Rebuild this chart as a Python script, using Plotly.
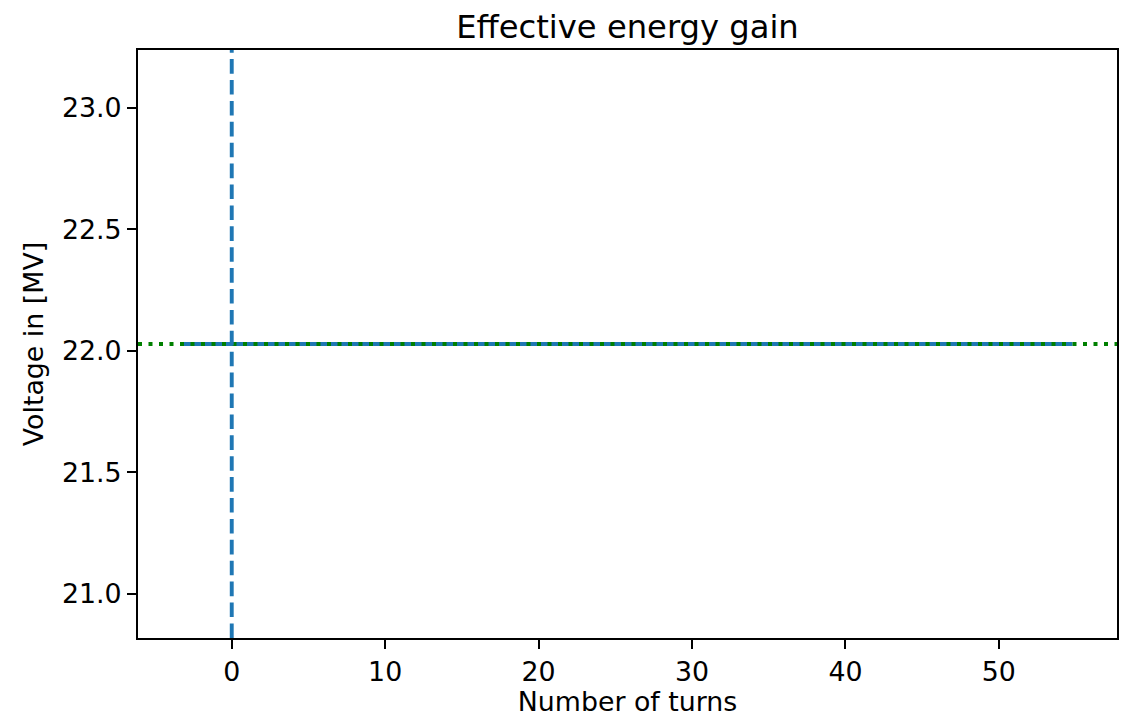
import plotly.graph_objects as go

# Data
turns = [-3.2, 54.8]
voltage = [22.028, 22.028]
target_voltage = 22.028
injection_turn = 0

x_range = [-6.11, 57.7]
y_range = [20.817, 23.239]
x_ticks = [0, 10, 20, 30, 40, 50]
y_ticks = [21.0, 21.5, 22.0, 22.5, 23.0]

FONT = "DejaVu Sans"
# the page body adds an 8px margin; compensate so the plot lands where the reference is
W, H = 1119, 709

fig = go.Figure()
fig.add_trace(go.Scatter(x=turns, y=voltage, mode="lines",
                         line=dict(color="#1f77b4", width=3.9), showlegend=False))

# axhline (green dotted)
fig.add_shape(type="line", xref="x domain", yref="y", x0=0, x1=1,
              y0=target_voltage, y1=target_voltage,
              line=dict(color="#008000", width=3.9, dash="4px,6.5px"))
# axvline (blue dashed)
fig.add_shape(type="line", xref="x", yref="y domain", x0=injection_turn, x1=injection_turn,
              y0=0, y1=1,
              line=dict(color="#1f77b4", width=3.9, dash="14.6px,6.3px"))

axis_common = dict(showgrid=False, zeroline=False, showline=True, mirror=True,
                   linecolor="black", linewidth=2, ticks="outside", ticklen=9,
                   tickwidth=2, tickcolor="black",
                   tickfont=dict(family=FONT, size=26.8, color="black"))

fig.update_xaxes(range=x_range, tickvals=x_ticks, ticktext=[str(v) for v in x_ticks],
                 title=dict(text="Number of turns", font=dict(family=FONT, size=26.8, color="black"),
                            standoff=8),
                 **axis_common)
fig.update_yaxes(range=y_range, tickvals=y_ticks, ticktext=[f"{v:.1f}" for v in y_ticks],
                 title=dict(text="Voltage in [MV]", font=dict(family=FONT, size=26.8, color="black"),
                            standoff=11),
                 **axis_common)

fig.update_layout(
    width=W, height=H,
    margin=dict(l=130, r=10, t=42, b=79, autoexpand=False),
    plot_bgcolor="white", paper_bgcolor="white",
    title=dict(text="Effective energy gain", x=(130 + W - 10) / 2 / W, xanchor="center",
               y=1 - 19 / H, yanchor="middle", yref="container",
               font=dict(family=FONT, size=32.2, color="black")),
    font=dict(family=FONT, color="black"),
)

fig.write_html("out.html")
